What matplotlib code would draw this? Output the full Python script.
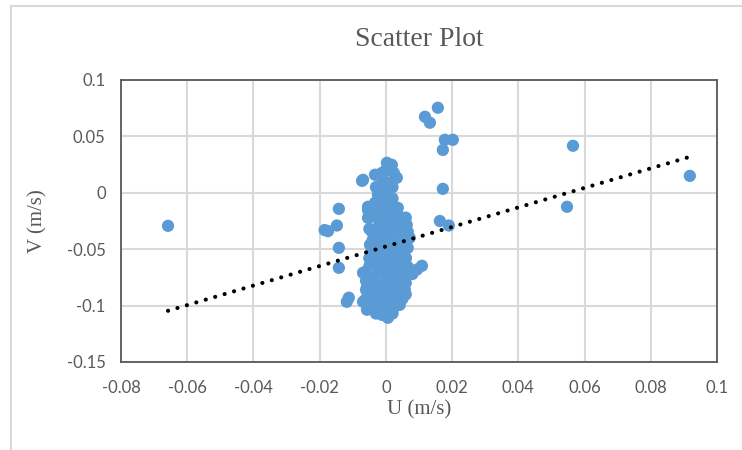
import matplotlib
matplotlib.use("Agg")
import matplotlib.pyplot as plt
from matplotlib.lines import Line2D
import numpy as np

# ---- data ----
U = [
    # main cluster: outline
    0.0003, 0.0018, 0.0024, 0.0033, -0.0012, -0.0033, -0.0072, 0.0006, -0.0018, 0.0006,
    -0.0024, 0.0018, -0.0033, -0.0054, -0.0054, -0.0033, 0.0036, 0.0051, 0.0063, 0.0066,
    0.0072, 0.0066, -0.0054, -0.0042, -0.0048, -0.0033, -0.0069, -0.0057, -0.0069, -0.0057,
    -0.0012, 0.0006, 0.0042, 0.0057, 0.0066, 0.0060,
    # main cluster: interior
    -0.003, 0.000, 0.003, -0.002, 0.002, 0.004, -0.003, 0.000, 0.004, -0.001,
    0.003, -0.004, 0.001, 0.005, -0.002, 0.002, 0.005, -0.005, -0.001, 0.003,
    -0.004, 0.000, 0.005, -0.002, 0.003, -0.005, 0.000, 0.004, -0.003, 0.001,
    -0.002, 0.002, -0.004, 0.006, -0.006, -0.001, 0.001, -0.001, 0.007,
    -0.002, 0.001, -0.001, 0.002, -0.003, 0.002, 0.000,
    -0.005, -0.001, 0.003, 0.006, -0.004, 0.000, 0.002, 0.006, -0.002, 0.001, 0.004,
    -0.005, 0.000, 0.003, 0.006, -0.003, 0.001, 0.004, -0.006, -0.002, 0.001, 0.005,
    -0.004, -0.001, 0.002, 0.006, -0.006, -0.003, 0.001, 0.005, -0.006, -0.001, 0.002, 0.005,
    -0.005, -0.002, 0.003, -0.003, 0.000, 0.002, -0.005, 0.001, 0.006,
    # small tail to the right of the cluster
    0.0109, 0.0094, 0.0080,
    # scattered points
    -0.0658, 0.0918, 0.0565, 0.0547, 0.0157, 0.0118, 0.0133, 0.0178, 0.0202, 0.0172,
    0.0172, 0.0163, 0.0190, -0.0142, -0.0148, -0.0175, -0.0185, -0.0142, -0.0142, -0.0112,
    -0.0118, -0.0069,
]
V = [
    0.0266, 0.0248, 0.0177, 0.0133, 0.0177, 0.0160, 0.0106, 0.0089, 0.0053, 0.0000,
    -0.0018, -0.0089, -0.0089, -0.0124, -0.0151, -0.0124, -0.0133, -0.0222, -0.0284, -0.0346,
    -0.0399, -0.0488, -0.0222, -0.0346, -0.0461, -0.0550, -0.0709, -0.0833, -0.0966, -0.1037,
    -0.1082, -0.1108, -0.0993, -0.0860, -0.0656, -0.0576,
    -0.020, -0.018, -0.020, -0.028, -0.030, -0.026, -0.038, -0.036, -0.040, -0.045,
    -0.048, -0.052, -0.055, -0.053, -0.060, -0.062, -0.065, -0.065, -0.068, -0.072,
    -0.075, -0.078, -0.078, -0.083, -0.085, -0.088, -0.090, -0.092, -0.095, -0.098,
    -0.103, -0.104, -0.100, -0.090, -0.078, -0.025, -0.008, 0.012, -0.070,
    -0.014, -0.014, -0.005, -0.005, 0.005, 0.005, 0.020,
    -0.032, -0.032, -0.032, -0.032, -0.042, -0.042, -0.042, -0.042, -0.050, -0.050, -0.050,
    -0.058, -0.058, -0.058, -0.058, -0.064, -0.064, -0.064, -0.070, -0.070, -0.070, -0.070,
    -0.080, -0.080, -0.080, -0.080, -0.086, -0.086, -0.086, -0.086, -0.094, -0.094, -0.094, -0.094,
    -0.100, -0.100, -0.100, -0.107, -0.107, -0.107, -0.022, -0.022, -0.022,
    -0.0647, -0.0680, -0.0720,
    -0.0293, 0.0150, 0.0417, -0.0124, 0.0754, 0.0674, 0.0621, 0.0470, 0.0470, 0.0380,
    0.0035, -0.0250, -0.0290, -0.0142, -0.0290, -0.0340, -0.0330, -0.0488, -0.0665, -0.0930,
    -0.0966, 0.0115,
]
TREND_SLOPE = 0.866
TREND_INTERCEPT = -0.0476

X_TICKS = [-0.08, -0.06, -0.04, -0.02, 0, 0.02, 0.04, 0.06, 0.08, 0.1]
X_LABELS = ["-0.08", "-0.06", "-0.04", "-0.02", "0", "0.02", "0.04", "0.06", "0.08", "0.1"]
Y_TICKS = [-0.15, -0.1, -0.05, 0, 0.05, 0.1]
Y_LABELS = ["-0.15", "-0.1", "-0.05", "0", "0.05", "0.1"]

TITLE = "Scatter Plot"
XLABEL = "U (m/s)"
YLABEL = "V (m/s)"

# ---- figure ----
W, H = 742, 450
fig = plt.figure(figsize=(W / 100, H / 100), dpi=100)
ax = fig.add_axes([121 / W, 1 - 362 / H, (717 - 121) / W, (362 - 80) / H])

ax.set_xlim(X_TICKS[0], X_TICKS[-1])
ax.set_ylim(Y_TICKS[0], Y_TICKS[-1])
ax.set_xticks(X_TICKS)
ax.set_xticklabels(X_LABELS)
ax.set_yticks(Y_TICKS)
ax.set_yticklabels(Y_LABELS)

grid_c = "#d9d9d9"
ax.grid(True, color=grid_c, linewidth=1.5)
ax.set_axisbelow(True)
for s in ax.spines.values():
    s.set_color("#595959")
    s.set_linewidth(1.3)

ax.tick_params(length=0, labelsize=12, labelcolor="#595959")
ax.tick_params(axis="x", pad=13)
ax.tick_params(axis="y", pad=11)
for lab in ax.get_xticklabels() + ax.get_yticklabels():
    lab.set_fontfamily("Lato")

ax.scatter(U, V, s=78, color="#5B9BD5", edgecolors="none", zorder=3)

u_arr = np.array(U)
xs = np.array([u_arr.min(), u_arr.max()])
ax.plot(xs, TREND_SLOPE * xs + TREND_INTERCEPT, color="black", linewidth=3.0,
        linestyle=(0, (0.01, 2.35)), dash_capstyle="round", zorder=4)

fig.text((121 + 717) / 2 / W, 1 - 39 / H, TITLE, ha="center", va="center",
         fontsize=20, color="#595959", family="Liberation Serif")
fig.text((121 + 717) / 2 / W, 1 - 410 / H, XLABEL, ha="center", va="center",
         fontsize=15, color="#595959", family="Liberation Serif")
fig.text(38 / W, 1 - 221 / H, YLABEL, ha="center", va="center", rotation=90,
         fontsize=15, color="#595959", family="Liberation Serif")

# chart-area border (top and left visible)
fig.add_artist(Line2D([11 / W, 1], [1 - 6 / H, 1 - 6 / H], transform=fig.transFigure,
                      color=grid_c, linewidth=1.5))
fig.add_artist(Line2D([11 / W, 11 / W], [0, 1 - 6 / H], transform=fig.transFigure,
                      color=grid_c, linewidth=1.5))

fig.savefig("out.png", dpi=100)
